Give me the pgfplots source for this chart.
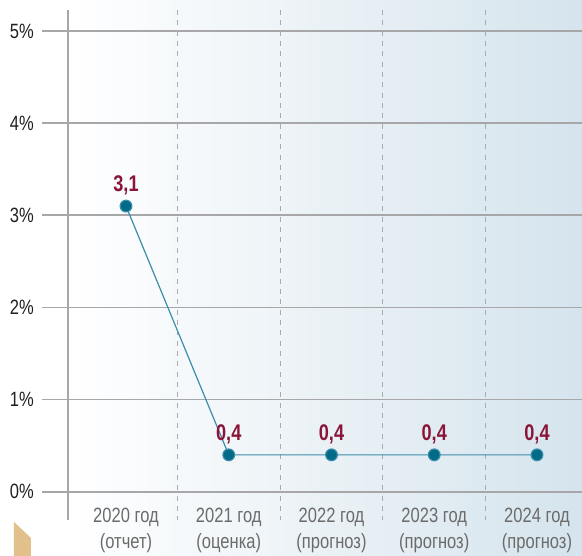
\documentclass[border=0pt]{standalone}
\usepackage{fontspec}
\setmainfont{Liberation Sans}[FakeStretch=0.8]
\usepackage{pgfplots}
\pgfplotsset{compat=1.18}
\definecolor{gridgray}{HTML}{A7A7AA}
\definecolor{dashgray}{HTML}{ABABAE}
\definecolor{bgblue}{HTML}{D5E4ED}
\definecolor{valred}{HTML}{8A1538}
\definecolor{linecol}{HTML}{3D8DAA}
\definecolor{markcol}{HTML}{006B87}
\definecolor{labgray}{HTML}{6B6B6B}
\definecolor{tancol}{HTML}{E2C08C}
\begin{document}
\begin{tikzpicture}
\path[use as bounding box] (-51pt,-27pt) rectangle (385.5pt,390pt);
\shade[left color=white, right color=bgblue] (0,-27pt) rectangle (385.5pt,390pt);
\fill[tancol] (-40.5pt,-1.5pt) -- (-27.75pt,-13.5pt) -- (-27.75pt,-27pt) -- (-40.5pt,-27pt) -- cycle;
\begin{axis}[
  at={(0,0)}, anchor=south west, scale only axis,
  width=385.5pt, height=382.5pt,
  xmin=-0.5645, xmax=4.438, ymin=-0.307, ymax=5.228,
  clip=false,
  axis y line*=left, axis x line*=bottom,
  x axis line style={draw=none},
  y axis line style={draw=gridgray, line width=1.3pt},
  major tick length=0pt,
  ytick={0,1,2,3,4,5},
  yticklabels={0\%,1\%,2\%,3\%,4\%,5\%},
  yticklabel style={font=\fontsize{15.5}{18}\selectfont, text=black!87, anchor=east, inner sep=0pt, xshift=-25.5pt},
  xtick={0,1,2,3,4},
  xticklabels={{2020 год\\(отчет)},{2021 год\\(оценка)},{2022 год\\(прогноз)},{2023 год\\(прогноз)},{2024 год\\(прогноз)}},
  xticklabel style={font=\fontsize{15.5}{19.5}\selectfont, text=labgray, align=center, anchor=north, inner sep=0pt, yshift=9pt},
]
\pgfplotsinvokeforeach{0,1,2,3,4,5}{
  \draw[gridgray, line width=1.3pt] (axis cs:-0.8175,#1) -- (axis cs:4.438,#1);
}
\pgfplotsinvokeforeach{0.5,1.5,2.5,3.5}{
  \draw[dashgray, line width=0.9pt, dash pattern=on 3.75pt off 4pt] (axis cs:#1,5.228) -- (axis cs:#1,-0.307);
}
\addplot[linecol, line width=0.9pt, mark=*, mark size=4.4pt,
  mark options={fill=markcol, draw=none},
  point meta=explicit symbolic, nodes near coords,
  every node near coord/.append style={font=\bfseries\fontsize{17}{20}\selectfont, text=valred, anchor=base, inner sep=0pt, yshift=11pt}]
  table[meta=lab] {
x y lab
0 3.1 3,1
1 0.4 0,4
2 0.4 0,4
3 0.4 0,4
4 0.4 0,4
};
\end{axis}
\end{tikzpicture}
\end{document}
